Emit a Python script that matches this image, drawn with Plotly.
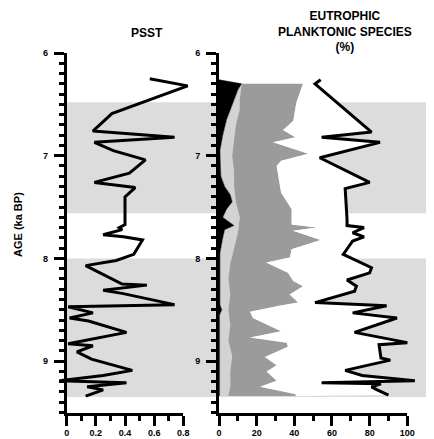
import plotly.graph_objects as go

# ---------------- data ----------------
psst_age = [6.25, 6.32, 6.59, 6.76, 6.82, 6.87, 6.95, 7.04, 7.17, 7.26,
            7.31, 7.40, 7.67, 7.70, 7.72, 7.77, 7.79, 7.82, 7.96, 8.02,
            8.07, 8.14, 8.25, 8.26, 8.31, 8.34, 8.45, 8.47, 8.53, 8.58,
            8.61, 8.72, 8.83, 8.85, 8.91, 8.98, 9.09, 9.14, 9.19, 9.21,
            9.25, 9.28, 9.34]
psst = [0.57, 0.83, 0.31, 0.18, 0.74, 0.19, 0.32, 0.54, 0.43, 0.19,
        0.47, 0.40, 0.40, 0.36, 0.38, 0.25, 0.39, 0.52, 0.46, 0.34,
        0.13, 0.23, 0.38, 0.55, 0.25, 0.38, 0.74, 0.01, 0.18, 0.02,
        0.15, 0.41, 0.01, 0.18, 0.07, 0.17, 0.45, 0.25, -0.05, 0.41,
        0.14, 0.25, 0.13]

total_age = [6.26, 6.30, 6.77, 6.82, 6.87, 7.02, 7.26, 7.32, 7.62, 7.68,
             7.70, 7.75, 7.79, 7.83, 7.96, 8.09, 8.14, 8.21, 8.27, 8.32,
             8.43, 8.46, 8.53, 8.58, 8.72, 8.82, 8.84, 8.97, 8.99, 9.09,
             9.14, 9.19, 9.21, 9.22, 9.25, 9.28, 9.33]
total = [54, 51, 81, 54.5, 85.5, 53.5, 80, 67, 68, 68,
         77, 71, 77, 71, 66, 81, 80, 68, 73, 72,
         51, 89, 71, 94.5, 72, 100, 85, 86, 91, 67,
         76, 104, 54.5, 86, 81, 84, 90]

gray_age = [6.30, 6.49, 6.66, 6.75, 6.82, 6.87, 6.98, 7.05, 7.10, 7.36,
            7.52, 7.67, 7.70, 7.73, 7.82, 7.91, 7.99, 8.04, 8.14, 8.22,
            8.27, 8.35, 8.43, 8.46, 8.52, 8.58, 8.71, 8.77, 8.82, 8.86,
            8.96, 9.04, 9.10, 9.19, 9.25, 9.32, 9.34]
gray = [44.6, 41, 39.5, 34, 40.5, 28.7, 47.4, 33, 30.6, 33,
        38.6, 38.6, 52, 39.4, 54, 38.6, 37.7, 25, 36.6, 39.4,
        44.6, 37.5, 42, 32, 16.5, 18, 33, 16.5, 36, 36.6,
        24.4, 30.6, 25.3, 30.6, 21.8, 40.4, 41]

light_age = [6.30, 6.45, 6.55, 6.70, 6.85, 7.00, 7.15, 7.30, 7.45, 7.60,
             7.75, 7.90, 8.05, 8.20, 8.35, 8.50, 8.65, 8.80, 8.95, 9.10,
             9.25, 9.34]
light = [12, 11, 11, 9, 8, 7, 8, 8, 9, 11,
         10, 8, 6, 5, 6, 5, 6, 5, 7, 6,
         6, 5]

black_age = [6.26, 6.30, 6.36, 6.50, 6.65, 6.80, 6.95, 7.20, 7.30, 7.38,
             7.45, 7.52, 7.60, 7.68, 7.72, 7.80, 7.95, 8.45, 8.50, 8.55,
             9.34]
black = [0, 12, 10, 7, 4, 2, 0.5, 1, 3, 6,
         7, 4, 2, 8, 3, 2, 0.5, 0.5, 1.5, 0.3,
         0.3]

bands = [(6.48, 7.56), (8.0, 9.35)]

psst_ticks = [0, 0.2, 0.4, 0.6, 0.8]
pct_ticks = [0, 20, 40, 60, 80, 100]
age_ticks = [6, 7, 8, 9]

# ---------------- layout geometry (screen pixels) ----------------
WIN_W, WIN_H = 434, 439
OFF = 8                      # default page body margin
W, H = WIN_W - OFF, WIN_H - OFF


def px(sx):
    return (sx - OFF) / W


def py(sy):
    return 1 - (sy - OFF) / H


L0, L1 = 66.7, 183.3      # PSST axis 0 .. 0.8
R0, R1 = 219.0, 407.3     # % axis 0 .. 100
YT, YB = 53.0, 412.5      # age 6.0 .. 9.5
lsc = (L1 - L0) / 0.8
rsc = (R1 - R0) / 100.0

FONT = "Liberation Sans, Arial, sans-serif"

fig = go.Figure()

# invisible anchor traces so that both visible axis frames are created
fig.add_trace(go.Scatter(x=[0.4], y=[7.0], xaxis="x", yaxis="y", mode="markers",
                         marker=dict(size=1, opacity=0), hoverinfo="skip", showlegend=False))
fig.add_trace(go.Scatter(x=[50], y=[7.0], xaxis="x2", yaxis="y2", mode="markers",
                         marker=dict(size=1, opacity=0), hoverinfo="skip", showlegend=False))

# PSST line (hidden overlay axis so spikes are not clipped at axis range)
fig.add_trace(go.Scatter(x=psst, y=psst_age, xaxis="x3", yaxis="y", mode="lines",
                         line=dict(color="black", width=3), showlegend=False))

# Eutrophic stacked areas
fig.add_trace(go.Scatter(x=black, y=black_age, xaxis="x4", yaxis="y", mode="lines",
                         fill="tozerox", fillcolor="black",
                         line=dict(color="black", width=0.5), showlegend=False))
fig.add_trace(go.Scatter(x=light, y=light_age, xaxis="x4", yaxis="y", mode="lines",
                         fill="tonextx", fillcolor="#d3d3d3",
                         line=dict(color="#d3d3d3", width=0), showlegend=False))
fig.add_trace(go.Scatter(x=gray, y=gray_age, xaxis="x4", yaxis="y", mode="lines",
                         fill="tonextx", fillcolor="#9b9b9b",
                         line=dict(color="#9b9b9b", width=0), showlegend=False))
fig.add_trace(go.Scatter(x=total, y=total_age, xaxis="x4", yaxis="y", mode="lines",
                         fill="tonextx", fillcolor="white",
                         line=dict(color="black", width=3), showlegend=False))

tickfont = dict(family=FONT, size=9, color="black", weight="bold")
axcommon = dict(showline=True, linewidth=3, linecolor="black", ticks="outside",
                ticklen=10, tickwidth=2.5, tickcolor="black", showgrid=False,
                zeroline=False, tickfont=tickfont, fixedrange=True)
ydom = [py(YB), py(YT)]

fig.update_layout(
    width=W, height=H,
    margin=dict(l=0, r=0, t=0, b=0, autoexpand=False),
    paper_bgcolor="white", plot_bgcolor="rgba(0,0,0,0)",
    xaxis=dict(domain=[px(L0), px(L1)], range=[0, 0.8], anchor="y",
               tickvals=psst_ticks, ticktext=[f"{v:g}" for v in psst_ticks],
               minor=dict(ticks="outside", dtick=0.1, tick0=0, ticklen=5,
                          tickwidth=2.5, tickcolor="black"),
               ticklabelstandoff=0, **axcommon),
    yaxis=dict(domain=ydom, range=[9.5, 6.0], anchor="x",
               tickvals=age_ticks, ticktext=[str(v) for v in age_ticks],
               minor=dict(ticks="outside", dtick=0.1, tick0=6, ticklen=5,
                          tickwidth=2.5, tickcolor="black"),
               ticklabelstandoff=4, **axcommon),
    xaxis2=dict(domain=[px(R0), px(R1)], range=[0, 100], anchor="y2",
                tickvals=pct_ticks, ticktext=[str(v) for v in pct_ticks],
                minor=dict(ticks="outside", dtick=10, tick0=0, ticklen=5,
                           tickwidth=2.5, tickcolor="black"),
                ticklabelstandoff=0, **axcommon),
    yaxis2=dict(domain=ydom, range=[9.5, 6.0], anchor="x2",
                tickvals=age_ticks, ticktext=[str(v) for v in age_ticks],
                minor=dict(ticks="outside", dtick=0.1, tick0=6, ticklen=5,
                           tickwidth=2.5, tickcolor="black"),
                ticklabelstandoff=4, **axcommon),
    xaxis3=dict(domain=[px(L0 - 0.08 * lsc), px(L0 + 0.86 * lsc)],
                range=[-0.08, 0.86], anchor="y", visible=False, fixedrange=True),
    xaxis4=dict(domain=[px(R0 - 2 * rsc), px(R0 + 110 * rsc)],
                range=[-2, 110], anchor="y", visible=False, fixedrange=True),
)

shapes = []
for y0, y1 in bands:
    shapes.append(dict(type="rect", xref="paper", yref="y", x0=px(L0), x1=1.0,
                       y0=y0, y1=y1, fillcolor="#dcdcdc", line=dict(width=0),
                       layer="below"))
fig.update_layout(shapes=shapes)

titlefont = dict(family=FONT, size=12, color="black", weight="bold")
fig.add_annotation(text="PSST", xref="paper", yref="paper", x=px(147), y=py(33),
                   showarrow=False, font=titlefont, xanchor="center", yanchor="middle")
fig.add_annotation(text="EUTROPHIC<br>PLANKTONIC SPECIES<br>(%)", xref="paper", yref="paper",
                   x=px(345), y=py(31), showarrow=False, font=titlefont,
                   xanchor="center", yanchor="middle", align="center")
fig.add_annotation(text="AGE (ka BP)", xref="paper", yref="paper", x=px(18), y=py(225),
                   showarrow=False, textangle=-90, xanchor="center", yanchor="middle",
                   font=dict(family=FONT, size=11, color="black", weight="bold"))

fig.write_html("out.html")
